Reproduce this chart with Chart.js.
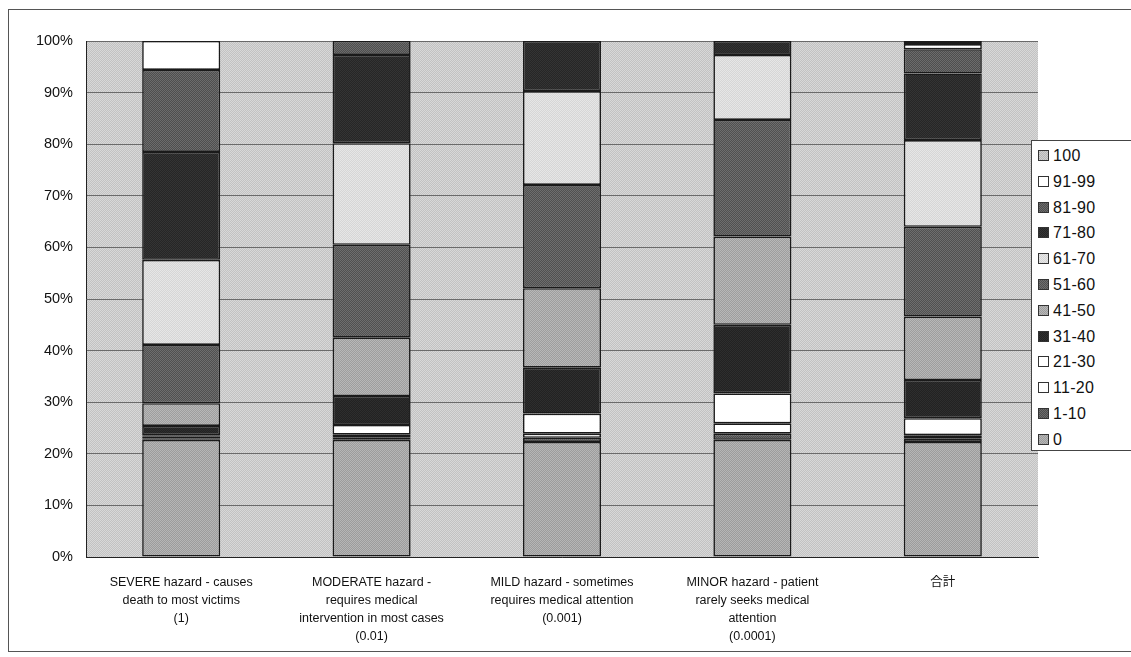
<!DOCTYPE html>
<html>
<head>
<meta charset="utf-8">
<script src="https://cdn.jsdelivr.net/npm/chart.js@4/dist/chart.umd.min.js"></script>
<style>
  html, body { margin: 0; padding: 0; background: #fff; }
  #wrap { position: relative; width: 1131px; height: 657px; overflow: hidden; }
  #legend {
    position: absolute; left: 1031px; top: 140px; width: 120px; height: 311px;
    background: #fff; border: 1px solid #444; box-sizing: border-box;
    font-family: 'Liberation Sans', 'Noto Sans CJK JP', sans-serif; font-size: 16px; color: #111;
  }
  .item { position: absolute; left: 6px; height: 16px; line-height: 16px; white-space: nowrap; letter-spacing: 0.3px; }
  .sw { display: inline-block; width: 9px; height: 9px; border: 1px solid #333; vertical-align: 0px;
        margin-right: 4px; image-rendering: pixelated; background-size: 2px 2px; }
</style>
</head>
<body>
<div id="wrap">
  <canvas id="c" width="1131" height="657"></canvas>
  <div id="legend"></div>
</div>
<script>
// Categories (hazard levels) shown on the x axis
const categories = [
  ["SEVERE hazard - causes", "death to most victims", "(1)"],
  ["MODERATE hazard -", "requires medical", "intervention in most cases", "(0.01)"],
  ["MILD hazard - sometimes", "requires medical attention", "(0.001)"],
  ["MINOR hazard - patient", "rarely seeks medical", "attention", "(0.0001)"],
  "合計"
];

// Score bands, bottom of the stack first
const seriesLabels = ["0", "1-10", "11-20", "21-30", "31-40", "41-50", "51-60", "61-70", "71-80", "81-90", "91-99", "100"];

// Share (%) of each score band per category
const band0     = [22.7, 22.7, 22.3, 22.7, 22.3];
const band1_10  = [0.3, 0.5, 0.8, 1.2, 0.7];
const band11_20 = [0.4, 0.5, 0.8, 2.0, 0.6];
const band21_30 = [0.2, 1.9, 3.9, 5.8, 3.3];
const band31_40 = [1.8, 5.6, 8.9, 13.3, 7.4];
const band41_50 = [4.4, 11.3, 15.4, 17.1, 12.3];
const band51_60 = [11.3, 18.0, 20.0, 22.6, 17.4];
const band61_70 = [16.5, 19.7, 18.2, 12.6, 16.8];
const band71_80 = [20.9, 17.1, 9.7, 2.7, 12.9];
const band81_90 = [15.9, 2.7, 0, 0, 4.7];
const band91_99 = [5.6, 0, 0, 0, 1.0];
const band100   = [0, 0, 0, 0, 0.6];

const yTickValues = [0, 10, 20, 30, 40, 50, 60, 70, 80, 90, 100];

const seriesValues = [band0, band1_10, band11_20, band21_30, band31_40, band41_50,
                      band51_60, band61_70, band71_80, band81_90, band91_99, band100];

// Two-tone dither fills, one pair per band
const fillPairs = [
  ["#9c9c9c", "#b6b6b6"], // 0
  ["#4c4c4c", "#6c6c6c"], // 1-10
  ["#ffffff", "#ffffff"], // 11-20
  ["#ffffff", "#ffffff"], // 21-30
  ["#222222", "#2e2e2e"], // 31-40
  ["#9e9e9e", "#b8b8b8"], // 41-50
  ["#505050", "#6e6e6e"], // 51-60
  ["#d6d6d6", "#e6e6e6"], // 61-70
  ["#262626", "#343434"], // 71-80
  ["#4e4e4e", "#6c6c6c"], // 81-90
  ["#ffffff", "#ffffff"], // 91-99
  ["#b4b4b4", "#d0d0d0"]  // 100
];

function ditherCanvas(a, b) {
  const c = document.createElement('canvas');
  c.width = 2; c.height = 2;
  const x = c.getContext('2d');
  x.fillStyle = a; x.fillRect(0, 0, 2, 2);
  x.fillStyle = b; x.fillRect(0, 0, 1, 1); x.fillRect(1, 1, 1, 1);
  return c;
}
const ctx = document.getElementById('c').getContext('2d');
function dither(a, b) { return ctx.createPattern(ditherCanvas(a, b), 'repeat'); }

const plotBg = dither("#c2c2c2", "#d8d8d8");

const datasets = seriesLabels.map((label, i) => ({
  label: label,
  data: seriesValues[i],
  backgroundColor: dither(fillPairs[i][0], fillPairs[i][1]),
  borderColor: "#1a1a1a",
  borderWidth: c => (c.raw ? 1.6 : 0),
  borderSkipped: false,
  barPercentage: 0.41,
  categoryPercentage: 1.0
}));

const FONT = "'Liberation Sans', 'Noto Sans CJK JP', sans-serif";

const decor = {
  id: 'decor',
  beforeDraw(chart) {
    const { ctx, chartArea: a } = chart;
    ctx.save();
    ctx.fillStyle = '#ffffff';
    ctx.fillRect(0, 0, chart.width, chart.height);
    ctx.strokeStyle = '#555';
    ctx.lineWidth = 1;
    ctx.strokeRect(8.5, 9.5, 1150, 642);
    ctx.fillStyle = plotBg;
    ctx.fillRect(a.left, a.top, a.right - a.left, a.bottom - a.top);
    ctx.restore();
  }
};

new Chart(ctx, {
  type: 'bar',
  data: { labels: categories, datasets: datasets },
  options: {
    responsive: false,
    animation: false,
    layout: { padding: { left: 20, top: 41, right: 93, bottom: 0 } },
    plugins: { legend: { display: false }, tooltip: { enabled: false } },
    scales: {
      x: {
        stacked: true,
        grid: { display: false, drawTicks: false },
        border: { display: true, color: '#222', width: 1 },
        ticks: {
          padding: 17,
          color: '#111',
          maxRotation: 0,
          autoSkip: false,
          font: { family: FONT, size: 12.5, lineHeight: '18px' }
        },
        afterFit(s) { s.height = 100; }
      },
      y: {
        stacked: true,
        min: 0, max: 100,
        afterBuildTicks(s) { s.ticks = yTickValues.map(v => ({ value: v })); },
        grid: { color: '#6a6a6a', lineWidth: 1, drawTicks: false },
        border: { display: true, color: '#222', width: 1 },
        ticks: {
          padding: 13,
          color: '#111',
          font: { family: FONT, size: 14.5 },
          callback: v => v + '%'
        },
        afterFit(s) { s.width = 66; }
      }
    }
  },
  plugins: [decor]
});

// Legend, highest band first
const legendEl = document.getElementById('legend');
for (let k = 0; k < seriesLabels.length; k++) {
  const i = seriesLabels.length - 1 - k;
  const item = document.createElement('div');
  item.className = 'item';
  item.style.top = (7 + k * 25.8) + 'px';
  const sw = document.createElement('span');
  sw.className = 'sw';
  sw.style.backgroundImage = 'url(' + ditherCanvas(fillPairs[i][0], fillPairs[i][1]).toDataURL() + ')';
  item.appendChild(sw);
  item.appendChild(document.createTextNode(seriesLabels[i]));
  legendEl.appendChild(item);
}
</script>
</body>
</html>
